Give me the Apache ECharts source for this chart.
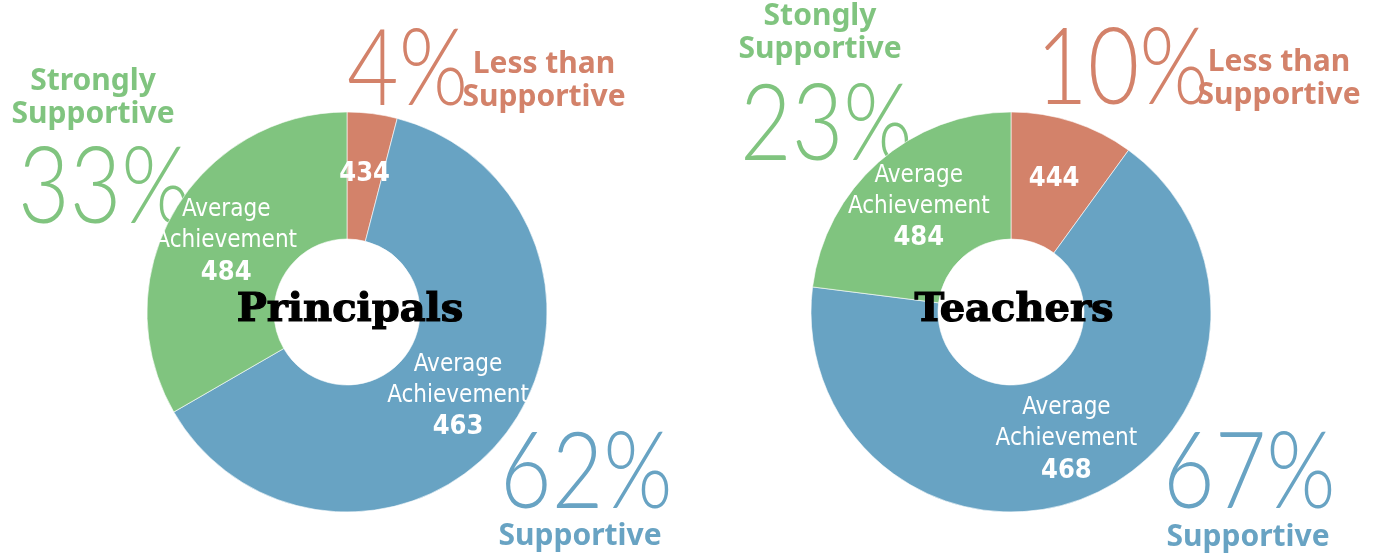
<!DOCTYPE html>
<html>
<head>
<meta charset="utf-8">
<script src="https://cdn.jsdelivr.net/npm/echarts@6/dist/echarts.min.js"></script>
<style>
  html, body { margin: 0; padding: 0; background: #fff; }
  #chart { width: 1376px; height: 557px; }
</style>
</head>
<body>
<div id="chart"></div>
<script>
// order of slices, clockwise from 12 o'clock
const groups = ['Principals', 'Teachers']
const categories = [
  ['Less than\nSupportive', 'Supportive', 'Strongly\nSupportive'],
  ['Less than\nSupportive', 'Supportive', 'Stongly\nSupportive']
]
const percents = [
  [4, 62, 33],
  [10, 67, 23]
]
const achievement = [
  [434, 463, 484],
  [444, 468, 484]
]

const colors = ['#d3826a', '#68a3c3', '#80c47f']

let myChart = echarts.init(document.getElementById('chart'))

// 饼图中心和半径
const centers = [[347, 312], [1011, 312]]

const narrow = "'DejaVu Sans Condensed', 'Liberation Sans Narrow', sans-serif"
const boldFont = "'Noto Sans', 'Open Sans', sans-serif"
const thinFont = "Lato, 'Open Sans', sans-serif"

let series = groups.map((g, gi) => ({
  name: g,
  type: 'pie',
  center: centers[gi],
  radius: [73, 200],
  startAngle: 90,
  clockwise: true,
  silent: true,
  itemStyle: { borderColor: '#fff', borderWidth: 0.6 },
  label: {
    show: true,
    position: 'inside',
    color: '#fff',
    formatter: p => {
      // 最小的块只显示数字
      if (p.dataIndex === 0) return '{n|' + achievement[gi][0] + '}'
      return '{t|Average}\n{t|Achievement}\n{n|' + achievement[gi][p.dataIndex] + '}'
    },
    rich: {
      t: { fontFamily: narrow, fontSize: 24, color: '#fff', lineHeight: 31 },
      n: { fontFamily: narrow, fontSize: 27, fontWeight: 'bold', color: '#fff', lineHeight: 33 }
    }
  },
  labelLine: { show: false },
  data: percents[gi].map((v, i) => ({
    name: categories[gi][i],
    value: v,
    itemStyle: { color: colors[i] }
  }))
}))

// 外部的大百分比和类别文字
const pctPos = [
  [[347, 71], [500, 474], [18, 189]],
  [[1036, 70], [1163, 474], [740, 126]]
]
const catPos = [
  [[544, 81], [580, 536], [93, 98]],
  [[1279, 79], [1248, 537], [820, 33]]
]

let graphic = []
groups.forEach((g, gi) => {
  percents[gi].forEach((v, i) => {
    graphic.push({
      type: 'text',
      x: pctPos[gi][i][0],
      y: pctPos[gi][i][1],
      scaleX: 0.84,
      style: {
        text: v + '%',
        fill: colors[i],
        font: '300 106px ' + thinFont,
        align: 'left',
        verticalAlign: 'middle'
      }
    })
    graphic.push({
      type: 'text',
      x: catPos[gi][i][0],
      y: catPos[gi][i][1],
      style: {
        text: categories[gi][i],
        fill: colors[i],
        font: 'bold 30px ' + boldFont,
        align: 'center',
        verticalAlign: 'middle',
        lineHeight: 33
      }
    })
  })
  graphic.push({
    type: 'text',
    x: centers[gi][0] + 3,
    y: centers[gi][1] - 1,
    z: 100,
    style: {
      text: g,
      fill: '#000',
      stroke: '#000',
      lineWidth: 1.2,
      font: "bold 40px 'DejaVu Serif', serif",
      align: 'center',
      verticalAlign: 'middle'
    }
  })
})

let option = {
  backgroundColor: '#fff',
  animation: false,
  series: series,
  graphic: graphic
}

myChart.setOption(option, true)
</script>
</body>
</html>
